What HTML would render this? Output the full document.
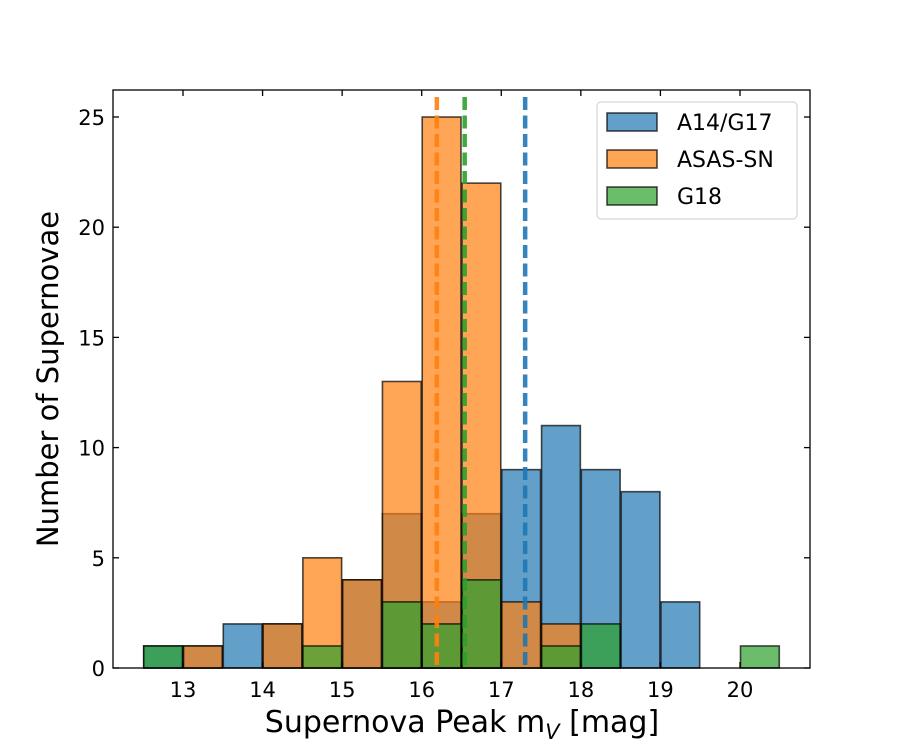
<!DOCTYPE html>
<html><head><meta charset="utf-8"><style>body{margin:0;background:#fff}svg{display:block;font-family:"DejaVu Sans","Liberation Sans",sans-serif}</style></head>
<body>
<svg id="c" width="900" height="750"></svg>
<script>
const binEdgesStart = 12.5, binWidth = 0.5;
const binLabels = ["12.5","13.0","13.5","14.0","14.5","15.0","15.5","16.0","16.5","17.0","17.5","18.0","18.5","19.0","19.5","20.0"];
const countsA14 = [1,1,2,2,0,4,7,3,7,9,11,9,8,3,0,0];
const countsASAS = [0,1,0,2,5,4,13,25,22,3,2,0,0,0,0,0];
const countsG18 = [1,0,0,0,1,0,3,2,4,0,1,2,0,0,0,1];
const medians = [17.30,16.19,16.54];
const seriesNames = ["A14/G17","ASAS-SN","G18"];
const colors = ["#1f77b4","#ff7f0e","#2ca02c"];
const xTicks = [13,14,15,16,17,18,19,20];
const yTicks = [0,5,10,15,20,25];
const NS="http://www.w3.org/2000/svg";
const svg=document.getElementById('c');
const L=113,R=810,T=90,B=668;
const X=v=>183+(v-13)*79.57;
const Y=v=>668-v*22.04;
function el(t,a,p){const e=document.createElementNS(NS,t);for(const k in a)e.setAttribute(k,a[k]);(p||svg).appendChild(e);return e;}
const series=[countsA14,countsASAS,countsG18];
series.forEach((arr,si)=>{
  const g=el('g',{});
  
  
  arr.forEach((c,i)=>{
    if(c<=0)return;
    const x0=X(binEdgesStart+i*binWidth), x1=X(binEdgesStart+(i+1)*binWidth);
    const r=el('rect',{x:x0+0.5,y:Y(c),width:x1-x0-1,height:Y(0)-Y(c),fill:colors[si],'fill-opacity':0.7,stroke:'#000','stroke-opacity':0.7,'stroke-width':1.6},g);
    
    
  });
});
medians.forEach((m,i)=>{
  const ln=el('line',{x1:X(m),x2:X(m),y1:97,y2:B,stroke:colors[i],'stroke-width':4.5,'stroke-dasharray':'13 5.5','stroke-opacity':0.9});
  
  
});
const fr=el('rect',{x:L,y:T,width:R-L,height:B-T,fill:'none',stroke:'#000','stroke-width':1.3});


xTicks.forEach(v=>{
  el('line',{x1:X(v),x2:X(v),y1:B,y2:B-6,stroke:'#000','stroke-width':1.3});
  el('line',{x1:X(v),x2:X(v),y1:T,y2:T+6,stroke:'#000','stroke-width':1.3});
  const t=el('text',{x:X(v),y:B+29,'font-size':21,'text-anchor':'middle'});t.textContent=v;
  
  
});
yTicks.forEach(v=>{
  el('line',{x1:L,x2:L+6,y1:Y(v),y2:Y(v),stroke:'#000','stroke-width':1.3});
  el('line',{x1:R,x2:R-6,y1:Y(v),y2:Y(v),stroke:'#000','stroke-width':1.3});
  const t=el('text',{x:L-8,y:Y(v)+8,'font-size':21,'text-anchor':'end'});t.textContent=v;
  
  
});
const xt=el('text',{x:462,y:732,'font-size':30,'text-anchor':'middle'});
xt.innerHTML='Supernova Peak m<tspan font-size="21" dy="7" font-style="italic">V</tspan><tspan dy="-7"> [mag]</tspan>';


const yt=el('text',{x:0,y:0,'font-size':29,'text-anchor':'middle',transform:'translate(58,379) rotate(-90)'});
yt.textContent='Number of Supernovae';


const lg=el('g',{});


el('rect',{x:597,y:102,width:200,height:117,rx:4,fill:'#fff','fill-opacity':0.8,stroke:'#ccc','stroke-width':1},lg);
seriesNames.forEach((n,i)=>{
  const y=113+i*37;
  const s=el('rect',{x:607,y:y,width:50,height:18,fill:colors[i],'fill-opacity':0.7,stroke:'#000','stroke-opacity':0.7,'stroke-width':1.6},lg);
  
  
  const t=el('text',{x:677,y:y+17,'font-size':22},lg);t.textContent=n;
  
  
});
</script>
</body></html>
